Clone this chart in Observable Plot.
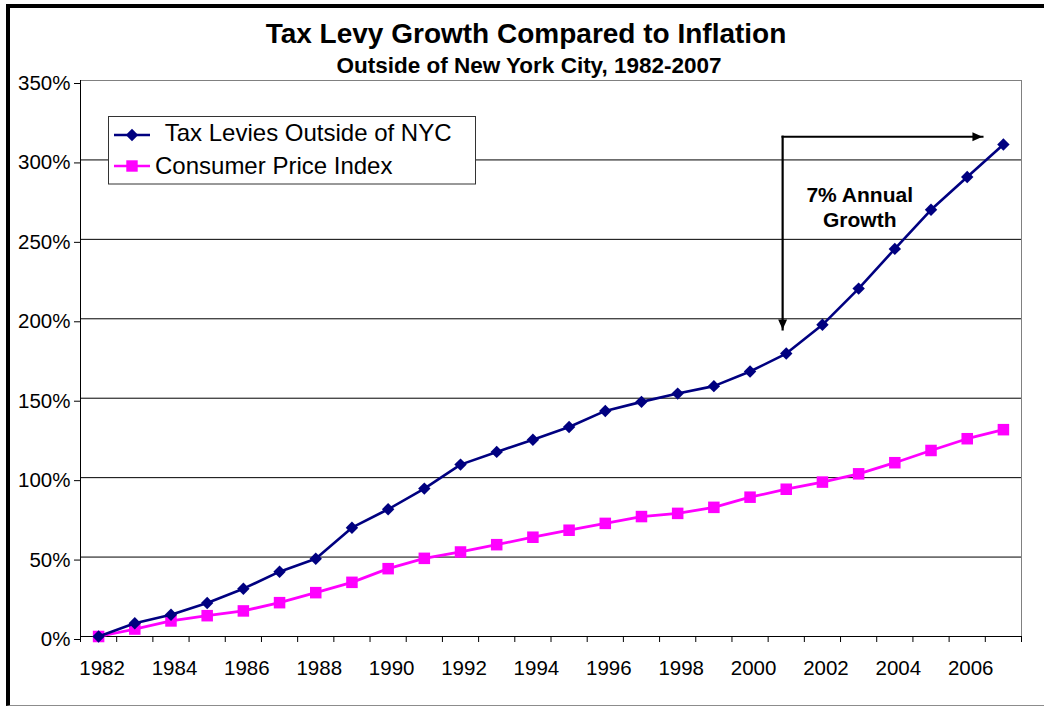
<!DOCTYPE html>
<html>
<head>
<meta charset="utf-8">
<script src="https://cdn.jsdelivr.net/npm/d3@7"></script>
<script src="https://cdn.jsdelivr.net/npm/@observablehq/plot@0.6"></script>
<style>
  html, body { margin: 0; padding: 0; background: #fff; overflow: hidden; }
  #wrap { position: relative; width: 1044px; height: 706px; overflow: hidden;
          font-family: "Liberation Sans", Arial, Helvetica, sans-serif; color: #000; }
  #frame { position: absolute; left: 6px; top: 4px; width: 1100px; height: 697px;
           border-top: 4px solid #000; border-left: 4px solid #000; border-bottom: 1px solid #8c8c8c; }
  #chart { position: absolute; left: 0; top: 0; }
  #chart svg { display: block; }
  .ttl { position: absolute; text-align: center; font-weight: bold; white-space: nowrap; }
  #title { left: 0; width: 1052px; top: 19.8px; font-size: 28px; line-height: 28px; }
  #subtitle { left: 0; width: 1058px; top: 54.5px; font-size: 22.5px; line-height: 22.5px; }
  #legend { position: absolute; left: 108px; top: 116px; }
</style>
</head>
<body>
<div id="wrap">
  <div id="frame"></div>
  <div id="chart"></div>
  <div id="title" class="ttl">Tax Levy Growth Compared to Inflation</div>
  <div id="subtitle" class="ttl">Outside of New York City, 1982-2007</div>
  <svg id="legend" width="370" height="70" xmlns="http://www.w3.org/2000/svg"></svg>
</div>
<script>
// ---- data ----
const years = [1982, 1983, 1984, 1985, 1986, 1987, 1988, 1989, 1990, 1991, 1992, 1993, 1994,
               1995, 1996, 1997, 1998, 1999, 2000, 2001, 2002, 2003, 2004, 2005, 2006, 2007];
const taxLevies = [0, 8.3, 13.7, 21.1, 30.1, 40.8, 49.0, 68.5, 80.1, 93.1, 108.2, 116.2, 123.9,
                   131.9, 142.0, 147.7, 152.9, 157.6, 166.8, 178.1, 196.2, 219.0, 244.0, 268.6, 289.2, 309.7];
const cpi = [0, 4.7, 9.8, 13.1, 16.1, 21.3, 27.6, 34.1, 42.7, 49.2, 53.2, 57.8, 62.5,
             66.9, 71.2, 75.5, 77.5, 81.3, 87.7, 92.7, 97.2, 102.4, 109.4, 117.1, 124.5, 130.2];
const yTicks = [0, 50, 100, 150, 200, 250, 300, 350];
const xLabelYears = [1982, 1984, 1986, 1988, 1990, 1992, 1994, 1996, 1998, 2000, 2002, 2004, 2006];
const seriesNames = [" Tax Levies Outside of NYC", "Consumer Price Index"];
const seriesColors = ["#000080", "#FF00FF"];

// annotation (data units)
const arrowCorner = [{year: 2000.9, value: 314.6}];
const arrowTips = [
  {year: 2000.9, value: 193.3, dir: "down"},
  {year: 2006.42, value: 314.6, dir: "right"}
];
const note = [{year: 2003.03, value: 270.6, text: "7% Annual\nGrowth"}];

// ---- build ----
const rows = years.map((year, i) => ({year, tax: taxLevies[i], cpi: cpi[i]}));
const boundaries = years.map(y => y - 0.5).concat([years[years.length - 1] + 0.5]);
const xDomain = [boundaries[0], boundaries[boundaries.length - 1]];

const downTri = {draw(ctx) { ctx.moveTo(-4.5, -10); ctx.lineTo(4.5, -10); ctx.lineTo(0, 0); ctx.closePath(); }};
const rightTri = {draw(ctx) { ctx.moveTo(-10, -4.5); ctx.lineTo(0, 0); ctx.lineTo(-10, 4.5); ctx.closePath(); }};

const links = arrowTips.map(t => ({x1: arrowCorner[0].year, y1: arrowCorner[0].value, x2: t.year, y2: t.value}));

const chart = Plot.plot({
  width: 1044,
  height: 706,
  marginLeft: 80,
  marginRight: 23,
  marginTop: 80,
  marginBottom: 70,
  style: {background: "transparent", fontFamily: "'Liberation Sans', Arial, sans-serif", fontSize: "20px", color: "#000", overflow: "visible"},
  x: {domain: xDomain, axis: null},
  y: {domain: [0, 350], axis: null},
  marks: [
    Plot.ruleY(yTicks.filter(d => d > 0 && d < 350), {stroke: "#000", strokeWidth: 1}),
    Plot.ruleY([350], {stroke: "#808080", strokeWidth: 1}),
    Plot.ruleX([xDomain[1]], {stroke: "#808080", strokeWidth: 1}),
    Plot.axisY({ticks: yTicks, tickSize: 6, tickPadding: 4, tickFormat: d => d + "%", fontSize: 20.5, dy: 3, label: null}),
    Plot.ruleX([xDomain[0]], {stroke: "#000", strokeWidth: 1}),
    Plot.ruleY([0], {stroke: "#000", strokeWidth: 1}),
    Plot.axisX({ticks: boundaries, tickSize: 6, tickFormat: () => "", label: null}),
    Plot.axisX({ticks: xLabelYears, tickSize: 0, tickPadding: 23.5, tickFormat: d => String(d), fontSize: 20.5, dx: 3.5, label: null}),
    Plot.line(rows, {x: "year", y: "cpi", stroke: seriesColors[1], strokeWidth: 2.8}),
    Plot.dot(rows, {x: "year", y: "cpi", symbol: "square", r: 6.5, fill: seriesColors[1]}),
    Plot.line(rows, {x: "year", y: "tax", stroke: seriesColors[0], strokeWidth: 2.6}),
    Plot.dot(rows, {x: "year", y: "tax", symbol: "diamond2", r: 5.6, fill: seriesColors[0]}),
    Plot.link(links, {x1: "x1", y1: "y1", x2: "x2", y2: "y2", stroke: "#000", strokeWidth: 2.2, strokeLinecap: "square"}),
    Plot.dot(arrowTips.filter(d => d.dir === "down"), {x: "year", y: "value", symbol: downTri, r: 1, fill: "#000", stroke: "none"}),
    Plot.dot(arrowTips.filter(d => d.dir === "right"), {x: "year", y: "value", symbol: rightTri, r: 1, fill: "#000", stroke: "none"}),
    Plot.text(note, {x: "year", y: "value", text: "text", fontWeight: "bold", fontSize: 21, lineHeight: 1.157, fill: "#000"})
  ]
});
document.getElementById("chart").appendChild(chart);

// ---- legend ----
const ns = "http://www.w3.org/2000/svg";
const lg = document.getElementById("legend");
function el(tag, attrs, text) {
  const e = document.createElementNS(ns, tag);
  for (const k in attrs) e.setAttribute(k, attrs[k]);
  if (text != null) e.textContent = text;
  lg.appendChild(e);
  return e;
}
el("rect", {x: 0.5, y: 0.5, width: 367, height: 67.5, fill: "#fff", stroke: "#333", "stroke-width": 1});
const rowY = [19, 50];
const textX = [50.5, 47];
const baseY = [24.5, 57.5];
seriesNames.forEach((name, i) => {
  el("line", {x1: 6, x2: 42, y1: rowY[i], y2: rowY[i], stroke: seriesColors[i], "stroke-width": 2.6});
  if (i === 0) {
    el("path", {d: `M24,${rowY[i] - 6.2}L30.2,${rowY[i]}L24,${rowY[i] + 6.2}L17.8,${rowY[i]}Z`, fill: seriesColors[i]});
  } else {
    el("rect", {x: 18.3, y: rowY[i] - 5.7, width: 11.4, height: 11.4, fill: seriesColors[i]});
  }
  const t = el("text", {x: textX[i], y: baseY[i], "font-size": 24, "font-family": "'Liberation Sans', Arial, sans-serif", fill: "#000"}, name);
  t.setAttribute("xml:space", "preserve");
  t.style.whiteSpace = "pre";
});
</script>
</body>
</html>
